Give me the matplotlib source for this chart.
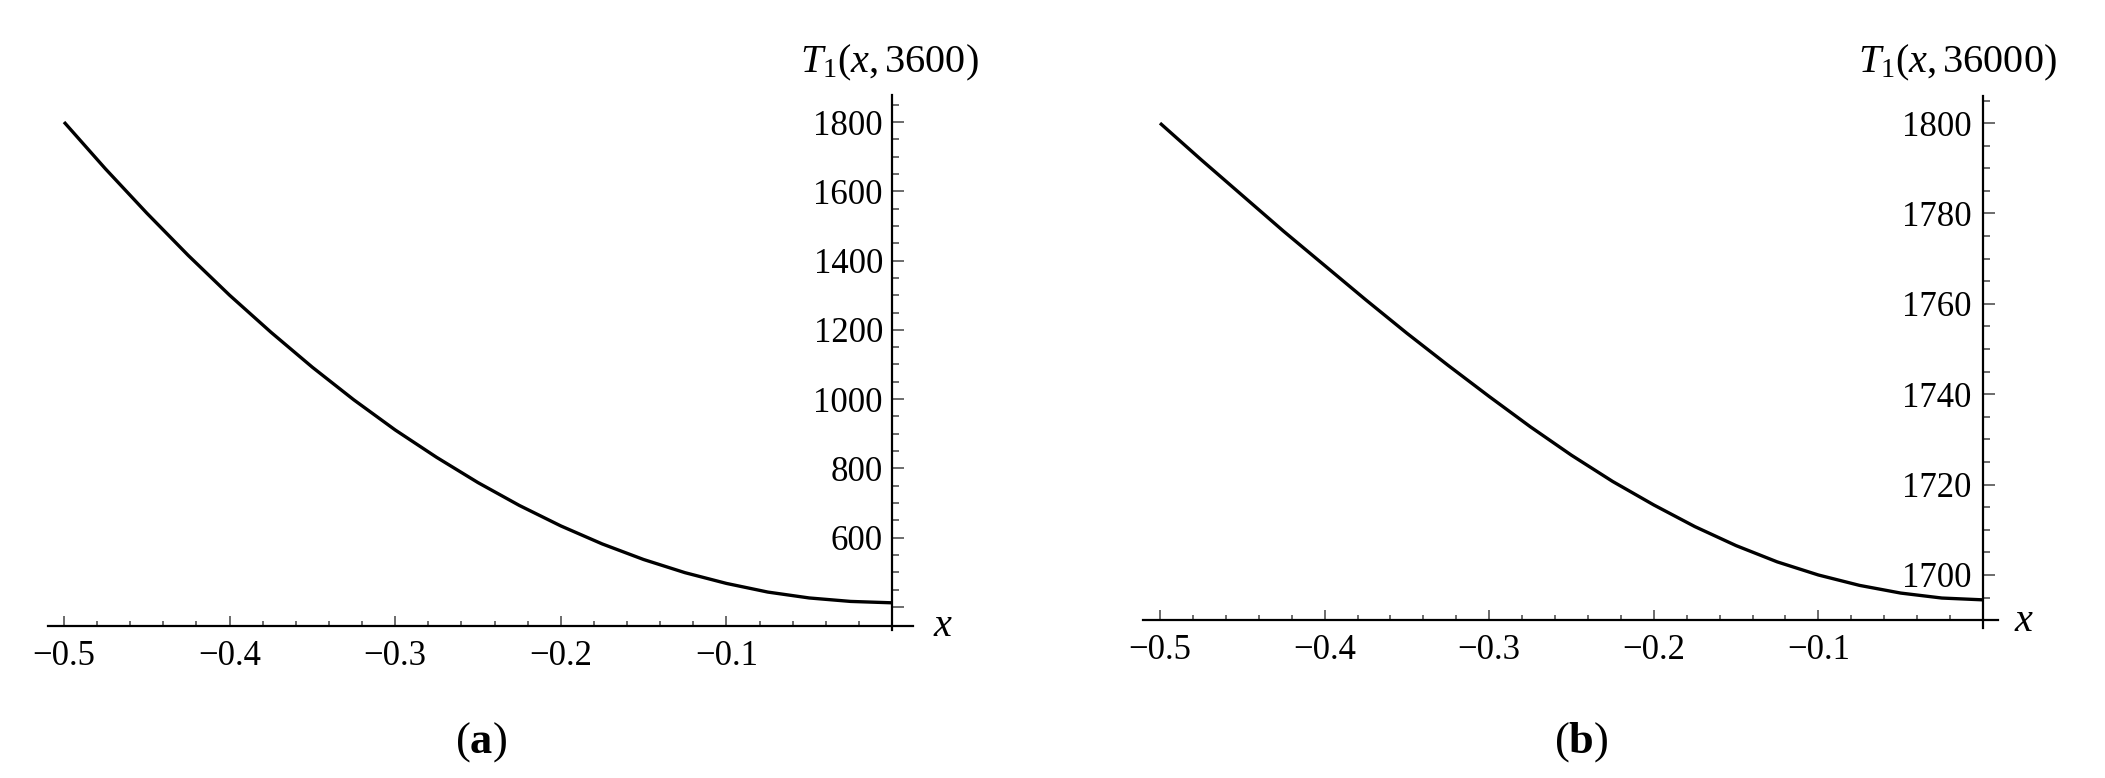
import matplotlib
matplotlib.use('Agg')
import matplotlib.pyplot as plt
import numpy as np
from matplotlib.ticker import FixedLocator, FixedFormatter

# ---- data ----
x_a = [-0.500, -0.475, -0.450, -0.425, -0.400, -0.375, -0.350, -0.325, -0.300, -0.275, -0.250,
       -0.225, -0.200, -0.175, -0.150, -0.125, -0.100, -0.075, -0.050, -0.025, 0.000]
T_a = [1800, 1665, 1537, 1415, 1300, 1193, 1092, 998, 911, 832, 759,
       693, 634, 582, 537, 499, 468, 443, 426, 416, 412]

x_b = [-0.500, -0.475, -0.450, -0.425, -0.400, -0.375, -0.350, -0.325, -0.300, -0.275, -0.250,
       -0.225, -0.200, -0.175, -0.150, -0.125, -0.100, -0.075, -0.050, -0.025, 0.000]
T_b = [1800, 1791.9, 1784, 1776.1, 1768.5, 1760.9, 1753.5, 1746.4, 1739.5, 1732.8, 1726.5,
       1720.7, 1715.5, 1710.7, 1706.5, 1702.9, 1700, 1697.7, 1696, 1694.9, 1694.5]

xticks_major = [-0.5, -0.4, -0.3, -0.2, -0.1]
xtick_labels = ['\u22120.5', '\u22120.4', '\u22120.3', '\u22120.2', '\u22120.1']
xticks_minor = [-0.48, -0.46, -0.44, -0.42, -0.38, -0.36, -0.34, -0.32,
                -0.28, -0.26, -0.24, -0.22, -0.18, -0.16, -0.14, -0.12,
                -0.08, -0.06, -0.04, -0.02]

yticks_a = [400, 600, 800, 1000, 1200, 1400, 1600, 1800]
ylabels_a = ['', '600', '800', '1000', '1200', '1400', '1600', '1800']
yticks_a_minor = [450, 500, 550, 650, 700, 750, 850, 900, 950, 1050, 1100, 1150,
                  1250, 1300, 1350, 1450, 1500, 1550, 1650, 1700, 1750, 1850]

yticks_b = [1700, 1720, 1740, 1760, 1780, 1800]
ylabels_b = ['1700', '1720', '1740', '1760', '1780', '1800']
yticks_b_minor = [1695, 1705, 1710, 1715, 1725, 1730, 1735, 1745, 1750, 1755,
                  1765, 1770, 1775, 1785, 1790, 1795, 1805]

ylabel_a = r'$T_1(x,3600)$'
ylabel_b = r'$T_1(x,36000)$'
panel_a = '(' + r'$\mathbf{a}$' + ')'
panel_b = '(' + r'$\mathbf{b}$' + ')'

# ---- style ----
plt.rcParams['font.family'] = ['Liberation Serif', 'DejaVu Serif']
plt.rcParams['mathtext.fontset'] = 'custom'
plt.rcParams['mathtext.rm'] = 'Liberation Serif'
plt.rcParams['mathtext.it'] = 'Liberation Serif:italic'
plt.rcParams['mathtext.bf'] = 'Liberation Serif:bold'

W, H = 2105, 778
fig = plt.figure(figsize=(W / 100, H / 100), dpi=100)
fig.patch.set_facecolor('white')


def rect(l, r, t, b):
    return [l / W, 1 - b / H, (r - l) / W, (b - t) / H]


def setup(ax, xlim, ylim, xaxis_y, yt, yl, ytm, ypad):
    ax.set_xlim(*xlim)
    ax.set_ylim(*ylim)
    ax.patch.set_alpha(0)
    for s in ('top', 'right'):
        ax.spines[s].set_visible(False)
    ax.spines['left'].set_position(('data', 0))
    ax.spines['bottom'].set_position(('data', xaxis_y))
    for s in ('left', 'bottom'):
        ax.spines[s].set_linewidth(1.6)
        ax.spines[s].set_color('black')
    ax.xaxis.set_major_locator(FixedLocator(xticks_major))
    ax.xaxis.set_major_formatter(FixedFormatter(xtick_labels))
    ax.xaxis.set_minor_locator(FixedLocator(xticks_minor))
    ax.yaxis.set_major_locator(FixedLocator(yt))
    ax.yaxis.set_major_formatter(FixedFormatter(yl))
    ax.yaxis.set_minor_locator(FixedLocator(ytm))
    ax.tick_params(axis='x', which='major', direction='in', length=7.2, width=1.1,
                   color='#444444', labelsize=25, pad=10)
    ax.tick_params(axis='x', which='minor', direction='in', length=3.6, width=1.1,
                   color='#444444')
    ax.tick_params(axis='y', which='major', direction='in', length=8.5, width=1.1,
                   color='#444444', labelsize=25, pad=ypad)
    ax.tick_params(axis='y', which='minor', direction='in', length=5.2, width=1.1,
                   color='#444444')


# panel (a)
ax1 = fig.add_axes(rect(48, 913, 95, 630))
setup(ax1, (-0.50966, 0.01268), (333.5, 1878), 345, yticks_a, ylabels_a, yticks_a_minor, 6.5)
ax1.plot(x_a, T_a, color='black', lw=2.4, solid_capstyle='butt', solid_joinstyle='round')

# panel (b)
ax2 = fig.add_axes(rect(1143, 1998, 96, 628))
setup(ax2, (-0.51033, 0.00911), (1688.27, 1806), 1690.04, yticks_b, ylabels_b, yticks_b_minor, 8.5)
ax2.plot(x_b, T_b, color='black', lw=2.4, solid_capstyle='butt', solid_joinstyle='round')

# axis labels
fig.text(800 / W, 1 - 72 / H, ylabel_a, fontsize=29, ha='left', va='baseline')
fig.text(1858 / W, 1 - 72 / H, ylabel_b, fontsize=29, ha='left', va='baseline')
fig.text(942 / W, 1 - 636 / H, 'x', fontsize=29, style='italic', ha='center', va='baseline')
fig.text(2023 / W, 1 - 631 / H, 'x', fontsize=29, style='italic', ha='center', va='baseline')

# panel labels
fig.text(481 / W, 1 - 742 / H, panel_a, fontsize=32, ha='center', va='center')
fig.text(1581 / W, 1 - 742 / H, panel_b, fontsize=32, ha='center', va='center')

fig.savefig('out.png', dpi=100, facecolor='white')
